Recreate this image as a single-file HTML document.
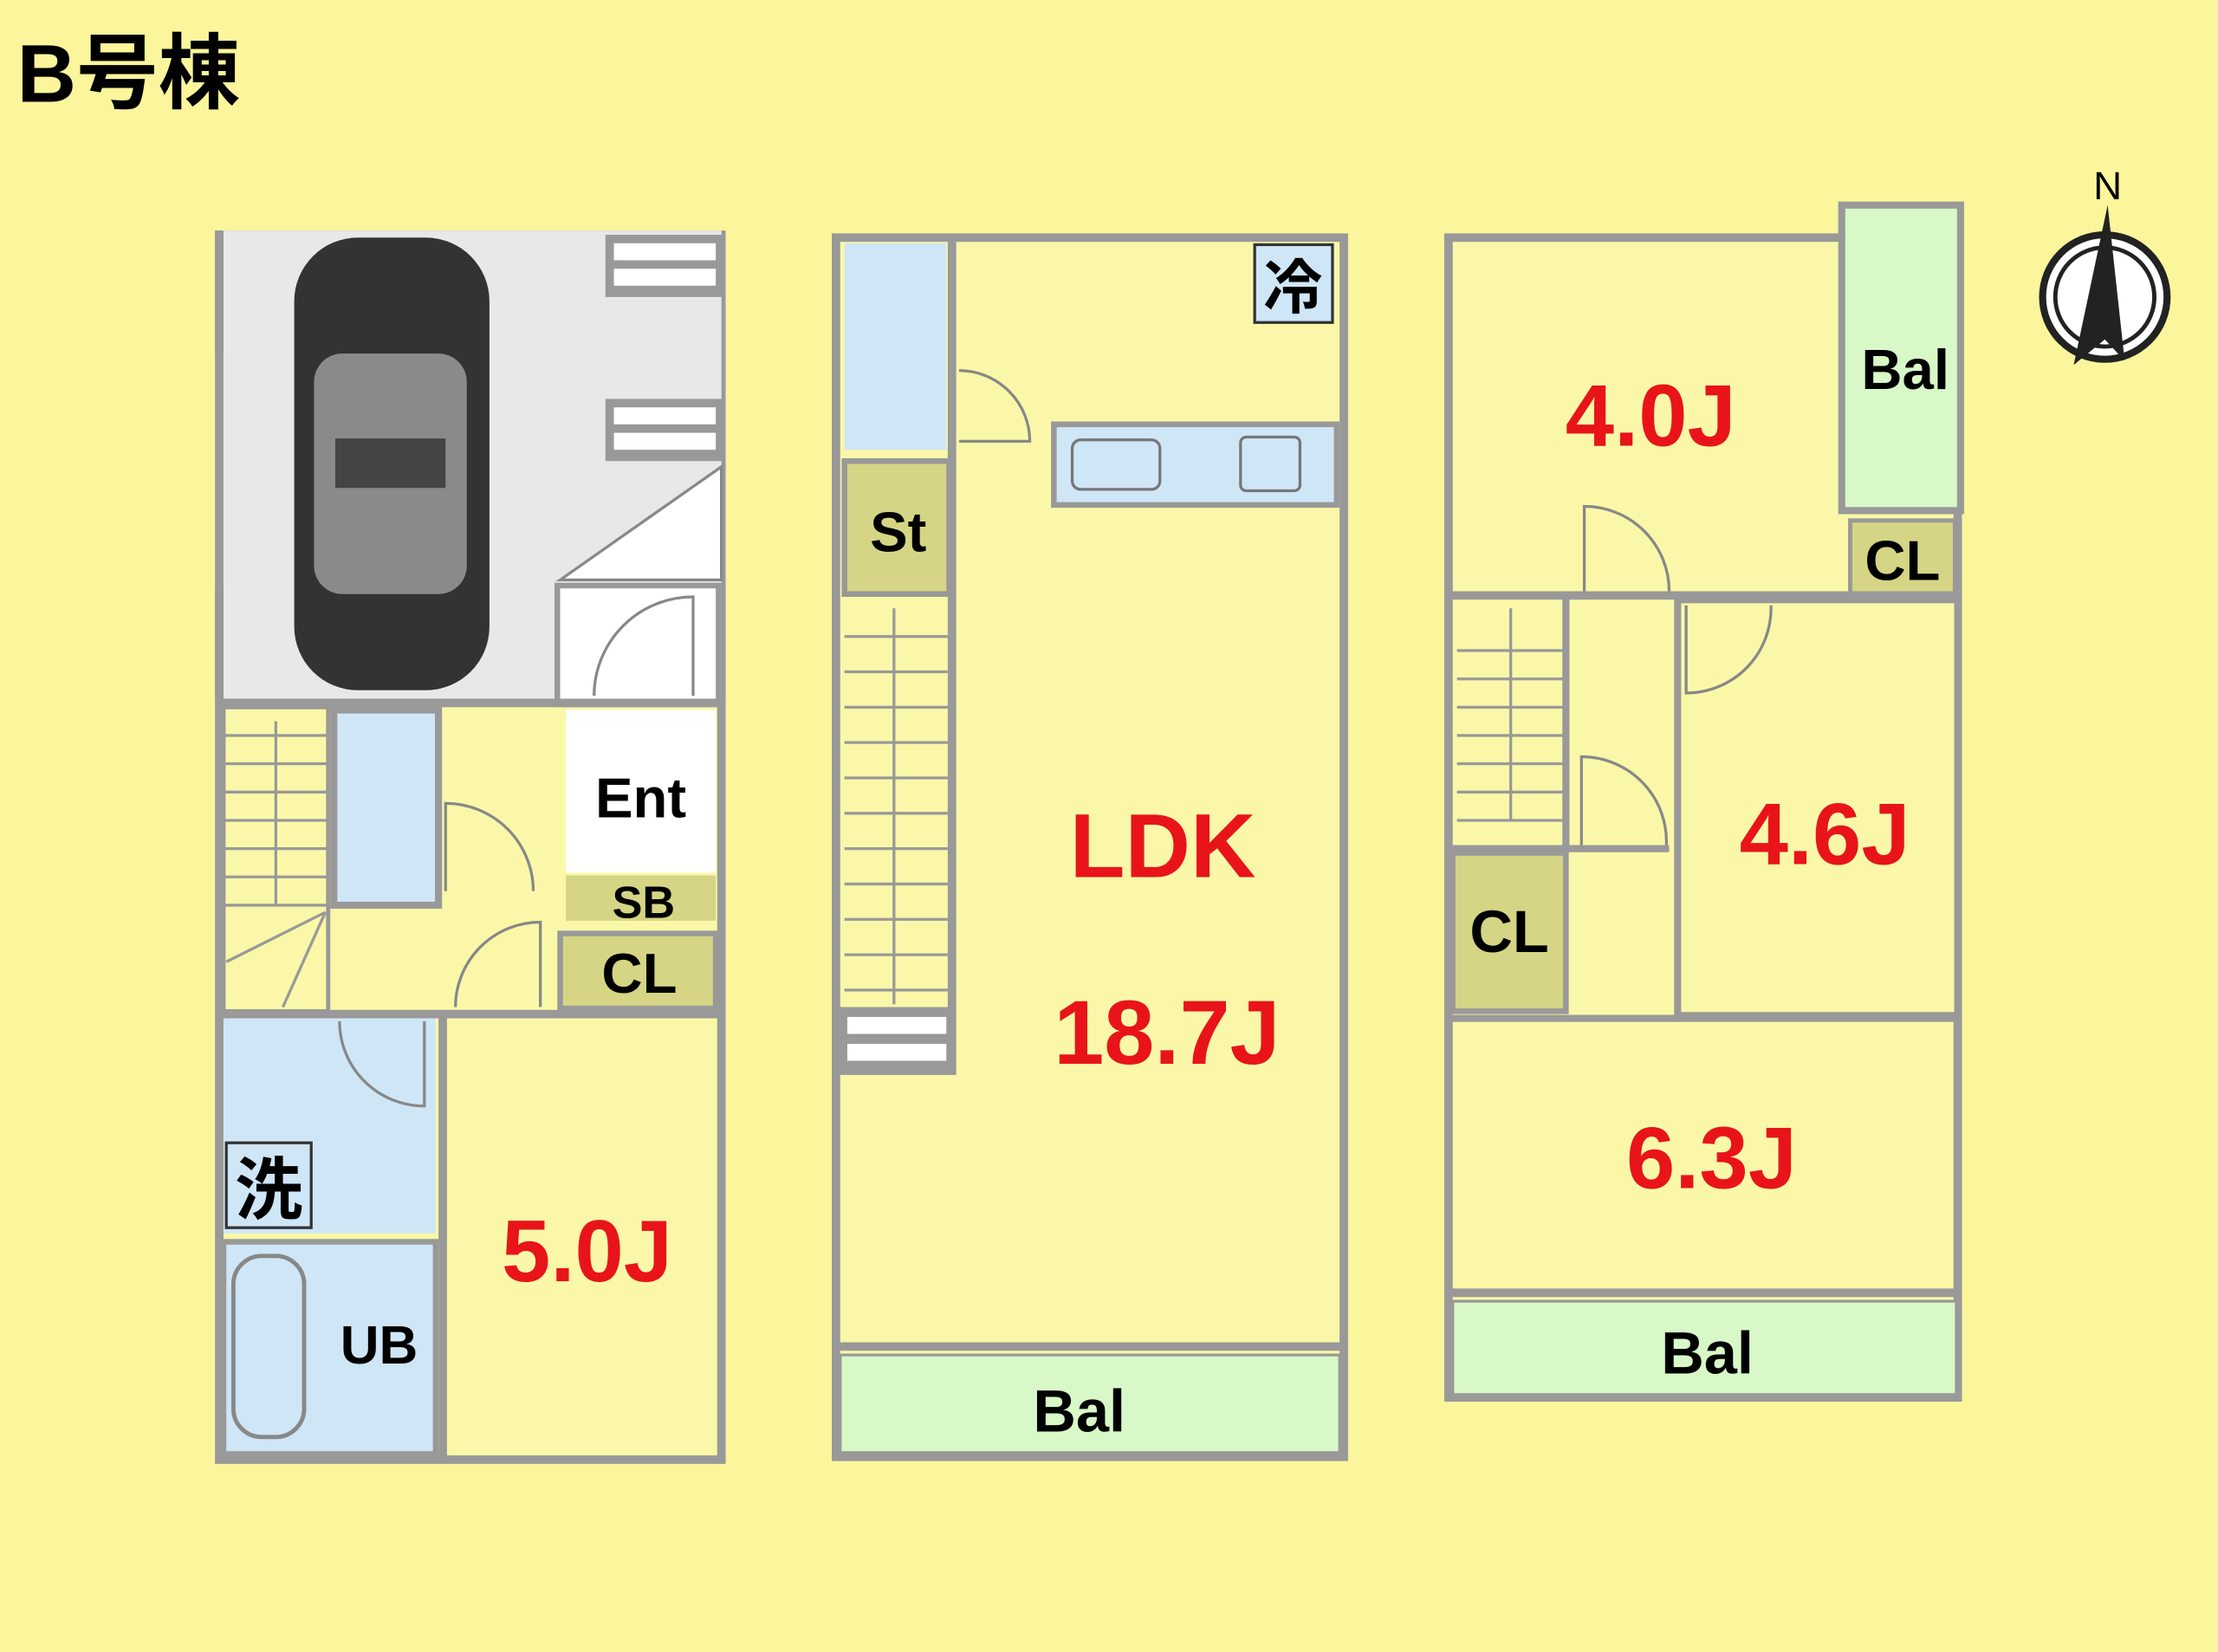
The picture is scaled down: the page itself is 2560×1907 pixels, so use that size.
<!DOCTYPE html>
<html><head><meta charset="utf-8"><style>
html,body{margin:0;padding:0;background:#FBF59C;}
svg{display:block}
text{font-family:"Liberation Sans","Noto Sans CJK JP",sans-serif;font-weight:bold}
</style></head><body>
<svg width="2560" height="1907" viewBox="0 0 1568 1168" preserveAspectRatio="none" xmlns="http://www.w3.org/2000/svg">
<rect width="1568" height="1168" fill="#FBF59C"/>
<text x="12" y="72" font-size="58" fill="#000">B号棟</text>

<!-- Floor 1 -->
<rect x="155" y="166" width="355" height="866" fill="#FAF8A8" stroke="#999" stroke-width="6"/>
<rect x="158" y="163" width="352" height="332" fill="#E8E8E8"/>
<line x1="155" y1="163" x2="155" y2="250" stroke="#999" stroke-width="6"/>
<line x1="155" y1="415" x2="155" y2="495" stroke="#999" stroke-width="6"/>
<rect x="428" y="166" width="84" height="44" fill="#999"/>
<rect x="434" y="172" width="72" height="12" fill="#fff"/><rect x="434" y="190" width="72" height="12" fill="#fff"/>
<rect x="428" y="282" width="84" height="44" fill="#999"/>
<rect x="434" y="288" width="72" height="12" fill="#fff"/><rect x="434" y="306" width="72" height="12" fill="#fff"/>
<polygon points="396,410 510,330 510,410" fill="#fff" stroke="#888" stroke-width="2"/>
<rect x="394" y="414" width="114" height="84" fill="#fff" stroke="#999" stroke-width="4"/>
<path d="M420,492 A70,70 0 0 1 490,422 L490,492" fill="none" stroke="#888" stroke-width="2"/>
<!-- car -->
<rect x="208" y="168" width="138" height="320" rx="45" fill="#333"/>
<rect x="222" y="250" width="108" height="170" rx="20" fill="#8a8a8a"/>
<rect x="237" y="310" width="78" height="35" fill="#444"/>
<line x1="155" y1="497" x2="510" y2="497" stroke="#999" stroke-width="6"/>
<rect x="158" y="500" width="74" height="215" fill="#FAF8A8" stroke="#999" stroke-width="3"/>
<g stroke="#999" stroke-width="2">
<line x1="158" y1="520" x2="232" y2="520"/><line x1="158" y1="540" x2="232" y2="540"/><line x1="158" y1="560" x2="232" y2="560"/><line x1="158" y1="580" x2="232" y2="580"/><line x1="158" y1="600" x2="232" y2="600"/><line x1="158" y1="620" x2="232" y2="620"/><line x1="158" y1="640" x2="232" y2="640"/><line x1="195" y1="510" x2="195" y2="640"/><line x1="160" y1="680" x2="230" y2="645"/><line x1="200" y1="712" x2="230" y2="645"/>
</g>
<rect x="236" y="502" width="74" height="138" fill="#CFE6F7" stroke="#999" stroke-width="5"/>
<path d="M315,630 L315,568 A62,62 0 0 1 377,630" fill="none" stroke="#888" stroke-width="2"/>
<path d="M322,712 A60,60 0 0 1 382,652 L382,712" fill="none" stroke="#888" stroke-width="2"/>
<rect x="400" y="502" width="106" height="115" fill="#fff"/>
<text x="453" y="578" font-size="40" text-anchor="middle">Ent</text>
<rect x="400" y="619" width="106" height="32" fill="#D5D585"/>
<text x="455" y="649" font-size="32" text-anchor="middle">SB</text>
<rect x="396" y="660" width="110" height="53" fill="#D5D585" stroke="#999" stroke-width="4"/>
<text x="452" y="702" font-size="40" text-anchor="middle">CL</text>
<line x1="155" y1="717" x2="510" y2="717" stroke="#999" stroke-width="6"/>
<rect x="158" y="720" width="150" height="152" fill="#CFE6F7"/>
<path d="M240,722 A60,60 0 0 0 300,782 L300,722" fill="none" stroke="#888" stroke-width="2"/>
<rect x="160" y="808" width="60" height="60" fill="#CFE6F7" stroke="#333" stroke-width="2"/>
<text x="190" y="858" font-size="48" text-anchor="middle">洗</text>
<rect x="158" y="878" width="150" height="150" fill="#CFE6F7" stroke="#999" stroke-width="4"/>
<rect x="165" y="888" width="50" height="128" rx="20" fill="#CFE6F7" stroke="#888" stroke-width="3"/>
<text x="268" y="964" font-size="38" text-anchor="middle">UB</text>
<line x1="313" y1="717" x2="313" y2="1032" stroke="#999" stroke-width="6"/>
<rect x="318" y="722" width="188" height="306" fill="#FAF8A8"/>
<text x="415" y="906" font-size="62" fill="#E8141A" text-anchor="middle">5.0J</text>

<!-- Floor 2 -->
<rect x="591" y="168" width="359" height="862" fill="#FAF8A8" stroke="#999" stroke-width="6"/>
<rect x="597" y="172" width="72" height="146" fill="#CFE6F7"/>
<path d="M678,262 A50,50 0 0 1 728,312 L678,312" fill="none" stroke="#888" stroke-width="2"/>
<rect x="597" y="326" width="74" height="94" fill="#D5D585" stroke="#999" stroke-width="4"/>
<text x="635" y="390" font-size="40" text-anchor="middle">St</text>
<line x1="673" y1="168" x2="673" y2="760" stroke="#999" stroke-width="6"/>
<g stroke="#999" stroke-width="2"><line x1="597" y1="450" x2="670" y2="450"/><line x1="597" y1="475" x2="670" y2="475"/><line x1="597" y1="500" x2="670" y2="500"/><line x1="597" y1="525" x2="670" y2="525"/><line x1="597" y1="550" x2="670" y2="550"/><line x1="597" y1="575" x2="670" y2="575"/><line x1="597" y1="600" x2="670" y2="600"/><line x1="597" y1="625" x2="670" y2="625"/><line x1="597" y1="650" x2="670" y2="650"/><line x1="597" y1="675" x2="670" y2="675"/><line x1="597" y1="700" x2="670" y2="700"/><line x1="632" y1="430" x2="632" y2="710"/></g>
<rect x="593" y="712" width="82" height="48" fill="#999"/>
<rect x="599" y="719" width="70" height="12" fill="#fff"/><rect x="599" y="738" width="70" height="12" fill="#fff"/>
<rect x="745" y="300" width="200" height="57" fill="#CFE6F7" stroke="#999" stroke-width="4"/>
<rect x="758" y="311" width="62" height="35" rx="6" fill="none" stroke="#777" stroke-width="2"/>
<rect x="877" y="309" width="42" height="38" rx="4" fill="none" stroke="#777" stroke-width="2"/>
<rect x="887" y="173" width="55" height="55" fill="#CFE6F7" stroke="#333" stroke-width="2"/>
<text x="914" y="218" font-size="42" text-anchor="middle">冷</text>
<text x="822" y="620" font-size="64" fill="#E8141A" text-anchor="middle">LDK</text>
<text x="825" y="752" font-size="64" fill="#E8141A" text-anchor="middle">18.7J</text>
<line x1="591" y1="952" x2="950" y2="952" stroke="#999" stroke-width="6"/>
<rect x="594" y="958" width="353" height="69" fill="#D8F8C8" stroke="#999" stroke-width="2"/>
<text x="763" y="1012" font-size="42" text-anchor="middle">Bal</text>

<!-- Floor 3 -->
<rect x="1024" y="168" width="360" height="820" fill="#FAF8A8" stroke="#999" stroke-width="6"/>
<rect x="1302" y="145" width="84" height="216" fill="#D8F8C8" stroke="#999" stroke-width="5"/>
<text x="1347" y="275" font-size="40" text-anchor="middle">Bal</text>
<rect x="1308" y="368" width="74" height="52" fill="#D5D585" stroke="#999" stroke-width="3"/>
<text x="1345" y="410" font-size="40" text-anchor="middle">CL</text>
<line x1="1024" y1="421" x2="1384" y2="421" stroke="#999" stroke-width="6"/>
<path d="M1120,418 L1120,358 A60,60 0 0 1 1180,418" fill="none" stroke="#888" stroke-width="2"/>
<path d="M1192,428 L1192,490 A60,60 0 0 0 1252,428" fill="none" stroke="#888" stroke-width="2"/>
<path d="M1118,598 L1118,535 A60,60 0 0 1 1178,598" fill="none" stroke="#888" stroke-width="2"/>
<text x="1167" y="315" font-size="62" fill="#E8141A" text-anchor="middle">4.0J</text>
<g stroke="#999" stroke-width="2"><line x1="1030" y1="460" x2="1105" y2="460"/><line x1="1030" y1="480" x2="1105" y2="480"/><line x1="1030" y1="500" x2="1105" y2="500"/><line x1="1030" y1="520" x2="1105" y2="520"/><line x1="1030" y1="540" x2="1105" y2="540"/><line x1="1030" y1="560" x2="1105" y2="560"/><line x1="1030" y1="580" x2="1105" y2="580"/><line x1="1068" y1="430" x2="1068" y2="580"/></g>
<line x1="1107" y1="421" x2="1107" y2="600" stroke="#999" stroke-width="5"/>
<line x1="1024" y1="600" x2="1180" y2="600" stroke="#999" stroke-width="5"/>
<rect x="1027" y="603" width="80" height="112" fill="#D5D585" stroke="#999" stroke-width="4"/>
<text x="1067" y="673" font-size="42" text-anchor="middle">CL</text>
<rect x="1186" y="424" width="198" height="294" fill="#FAF8A8" stroke="#999" stroke-width="5"/>
<path d="M1192,428 L1192,490 A60,60 0 0 0 1252,428" fill="none" stroke="#888" stroke-width="2"/>
<text x="1290" y="611" font-size="62" fill="#E8141A" text-anchor="middle">4.6J</text>
<line x1="1024" y1="720" x2="1384" y2="720" stroke="#999" stroke-width="5"/>
<text x="1210" y="840" font-size="62" fill="#E8141A" text-anchor="middle">6.3J</text>
<line x1="1024" y1="914" x2="1384" y2="914" stroke="#999" stroke-width="6"/>
<rect x="1027" y="920" width="356" height="66" fill="#D8F8C8" stroke="#999" stroke-width="2"/>
<text x="1207" y="971" font-size="42" text-anchor="middle">Bal</text>

<!-- compass -->
<text x="1490" y="141" font-size="28" text-anchor="middle" style="font-weight:normal">N</text>
<circle cx="1488" cy="210" r="44" fill="#fff" stroke="#222" stroke-width="5"/>
<circle cx="1488" cy="210" r="35" fill="none" stroke="#222" stroke-width="3"/>
<polygon points="1490,145 1502,255 1488,240 1466,258" fill="#222"/>
</svg>
</body></html>
